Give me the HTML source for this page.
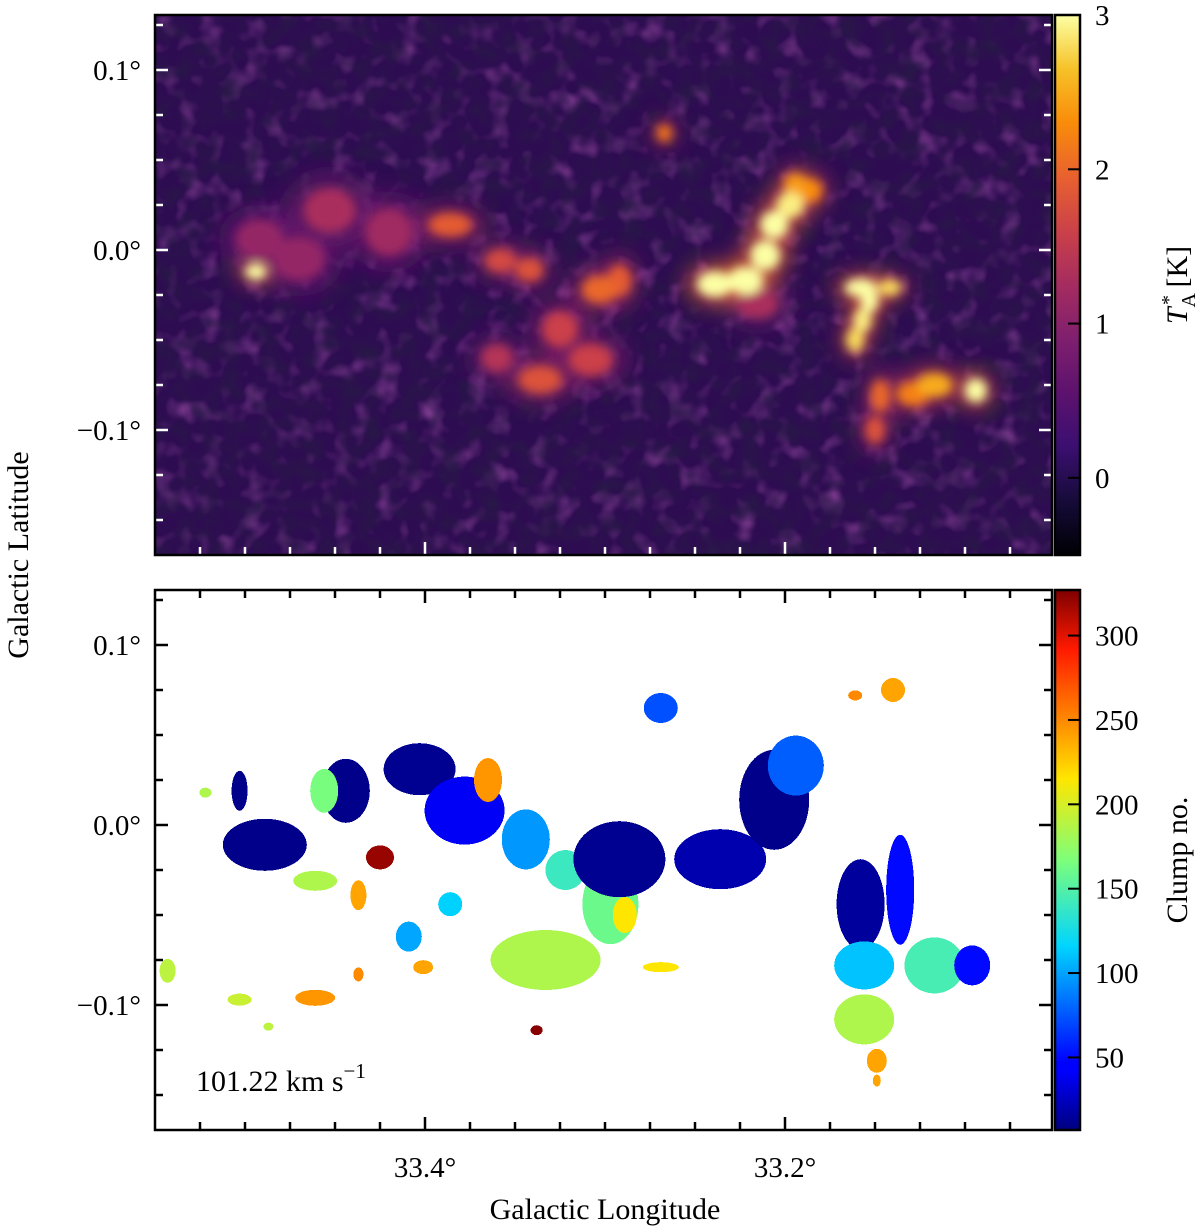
<!DOCTYPE html>
<html><head><meta charset="utf-8">
<style>
html,body{margin:0;padding:0;background:#fff;width:1200px;height:1232px;overflow:hidden}
svg{display:block;font-family:"Liberation Serif",serif}
</style></head>
<body>
<svg id="fig" width="1200" height="1232" viewBox="0 0 1200 1232" xmlns="http://www.w3.org/2000/svg">
<defs>
<filter id="blur6" x="-100%" y="-100%" width="300%" height="300%"><feGaussianBlur stdDeviation="5"/></filter>
<filter id="blurH" x="-100%" y="-100%" width="300%" height="300%"><feGaussianBlur stdDeviation="10"/></filter>
<filter id="noise" x="0" y="0" width="100%" height="100%">
<feTurbulence type="fractalNoise" baseFrequency="0.045" numOctaves="2" seed="4"/>
<feColorMatrix type="matrix" values="0 0 0 0 0.42  0 0 0 0 0.1  0 0 0 0 0.45  1.4 0 0 0 -0.7"/>
</filter>
<filter id="noise2" x="0" y="0" width="100%" height="100%">
<feTurbulence type="fractalNoise" baseFrequency="0.05" numOctaves="2" seed="11"/>
<feColorMatrix type="matrix" values="0 0 0 0 0.02  0 0 0 0 0.01  0 0 0 0 0.06  1.7 0 0 0 -0.66"/>
</filter>
<clipPath id="clipTop"><rect x="155" y="15" width="897" height="540"/></clipPath>
<clipPath id="clipBot"><rect x="155" y="590" width="897" height="540"/></clipPath>
<linearGradient id="gInferno" x1="0" y1="1" x2="0" y2="0">
<stop offset="0" stop-color="#000004"/><stop offset="0.1" stop-color="#160b39"/><stop offset="0.2" stop-color="#3b0f70"/><stop offset="0.3" stop-color="#5c126e"/><stop offset="0.4" stop-color="#7f1f6e"/><stop offset="0.5" stop-color="#a52c60"/><stop offset="0.6" stop-color="#cb4149"/><stop offset="0.7" stop-color="#e8612f"/><stop offset="0.8" stop-color="#f98c0a"/><stop offset="0.9" stop-color="#f6c228"/><stop offset="1" stop-color="#fcffa4"/>
</linearGradient>
<linearGradient id="gJet" x1="0" y1="1" x2="0" y2="0">
<stop offset="0" stop-color="#00007f"/><stop offset="0.11" stop-color="#0000ff"/><stop offset="0.125" stop-color="#0000ff"/><stop offset="0.34" stop-color="#00d4ff"/><stop offset="0.5" stop-color="#7dff7a"/><stop offset="0.65" stop-color="#ffe600"/><stop offset="0.89" stop-color="#ff1a00"/><stop offset="1" stop-color="#7f0000"/>
</linearGradient>
</defs>
<g id="topPanel"></g>
<g id="botPanel"></g>
<g id="axes"></g>
</svg>
<script>
// ---- data ----
const blobLon = [33.494,33.267,33.239,33.222,33.211,33.206,33.197,33.194,33.186,33.158,33.142,33.153,33.157,33.161,33.117,33.094,33.147,33.15,33.129,33.386,33.358,33.342,33.303,33.292,33.325,33.336,33.308,33.453,33.492,33.42,33.47,33.215,33.36];
const blobLat = [-0.012,0.065,-0.019,-0.017,-0.003,0.014,0.025,0.036,0.033,-0.021,-0.021,-0.028,-0.039,-0.05,-0.075,-0.078,-0.081,-0.1,-0.08,0.014,-0.006,-0.011,-0.022,-0.017,-0.044,-0.072,-0.061,0.022,0.006,0.01,-0.005,-0.03,-0.06];
const blobAmp = [3.0,2.1,3.1,3.2,3.1,3.0,2.9,2.4,2.3,3.1,2.8,3.0,2.9,2.8,2.5,3.1,2.0,1.8,2.2,1.9,1.7,1.8,2.0,1.9,1.6,1.8,1.6,1.3,1.1,1.2,1.1,1.3,1.4];
const blobRx = [11,8,18,18,15,14,14,12,12,16,12,9,9,9,18,11,10,10,16,22,16,14,18,12,18,22,22,26,24,24,26,20,16];
const blobRy = [8,9,13,14,15,14,13,12,12,9,8,12,12,12,12,12,16,14,12,12,12,12,14,16,18,14,16,22,20,24,22,14,14];

const clumpLon = [33.489,33.503,33.444,33.456,33.461,33.425,33.437,33.403,33.378,33.365,33.344,33.386,33.409,33.401,33.322,33.297,33.292,33.333,33.289,33.269,33.269,33.236,33.206,33.194,33.158,33.136,33.156,33.117,33.096,33.156,33.149,33.140,33.161,33.461,33.503,33.543,33.338,33.437,33.522,33.487,33.149];
const clumpLat = [-0.011,0.019,0.019,0.019,-0.031,-0.018,-0.039,0.031,0.008,0.025,-0.008,-0.044,-0.062,-0.079,-0.025,-0.044,-0.019,-0.075,-0.05,-0.079,0.065,-0.019,0.014,0.033,-0.044,-0.036,-0.078,-0.078,-0.078,-0.108,-0.131,0.075,0.072,-0.096,-0.097,-0.081,-0.114,-0.083,0.018,-0.112,-0.142];
const clumpId = [10,10,10,165,185,320,240,12,40,245,95,115,100,240,140,160,12,185,215,215,70,20,10,75,15,45,110,145,45,185,240,240,250,245,195,190,325,250,185,190,240];
const clumpRx = [42,8,24,14,22,14,8,36,40,14,24,12,13,10,20,28,46,55,12,18,17,46,35,28,24,14,30,30,18,30,10,12,7,20,12,8,6,5,6,5,4];
const clumpRy = [26,20,32,22,10,12,15,26,34,22,30,12,15,7,20,40,38,30,18,5,15,30,50,30,45,55,24,28,20,25,12,12,5,8,6,12,5,7,5,4,6];

const latTicks = [0.1,0.0,-0.1];
const latLabels = ["0.1°","0.0°","−0.1°"];
const lonTicks = [33.4,33.2];
const lonLabels = ["33.4°","33.2°"];
const cbTopTicks = [0,1,2,3];
const cbBotTicks = [50,100,150,200,250,300];

// ---- axes functions ----
const X0=155, X1=1052;
function xOf(lon){ return 425 + (33.4-lon)*1800; }
function yTop(lat){ return 250 - lat*1800; }
function yBot(lat){ return 825 - lat*1800; }
function cbTopY(v){ return 555 - (v+0.5)/3.5*540; }
function cbBotY(v){ return 1130 - (v-7)/(327-7)*540; }

const NS="http://www.w3.org/2000/svg";
function mk(tag, attrs, parent){ const e=document.createElementNS(NS,tag); for(const k in attrs) e.setAttribute(k,attrs[k]); parent.appendChild(e); return e; }

function lerpStops(stops,t){
  t=Math.max(0,Math.min(1,t));
  for(let i=0;i<stops.length-1;i++){
    if(t<=stops[i+1][0]){
      const a=stops[i],b=stops[i+1],f=(t-a[0])/(b[0]-a[0]);
      const c=[0,1,2].map(j=>Math.round(a[1][j]+(b[1][j]-a[1][j])*f));
      return `rgb(${c[0]},${c[1]},${c[2]})`;
    }
  }
  const l=stops[stops.length-1][1]; return `rgb(${l[0]},${l[1]},${l[2]})`;
}
const inferno=[[0,[0,0,4]],[0.1,[22,11,57]],[0.2,[59,15,112]],[0.3,[92,18,110]],[0.4,[127,31,110]],[0.5,[165,44,96]],[0.6,[203,65,73]],[0.7,[232,97,47]],[0.8,[249,140,10]],[0.9,[246,194,40]],[1,[252,255,164]]];
const jet=[[0,[0,0,127]],[0.11,[0,0,255]],[0.34,[0,212,255]],[0.5,[125,255,122]],[0.65,[255,230,0]],[0.89,[255,26,0]],[1,[127,0,0]]];
function infernoCol(v){ return lerpStops(inferno,(v+0.5)/3.5); }
function jetCol(v){ return lerpStops(jet,(v-7)/320); }

// ---- top panel ----
const topG=document.getElementById('topPanel');
const tg=mk('g',{'clip-path':'url(#clipTop)'},topG);
let r=mk('rect',{x:X0,y:15,width:897,height:540,fill:'rgb(46,12,82)'},tg);


mk('rect',{x:X0,y:15,width:897,height:540,filter:'url(#noise)'},tg);
mk('rect',{x:X0,y:15,width:897,height:540,filter:'url(#noise2)'},tg);
const order=blobAmp.map((a,i)=>i).sort((a,b)=>blobAmp[a]-blobAmp[b]);
const haloG=mk('g',{filter:'url(#blurH)'},tg);
order.forEach(i=>{
  const h=mk('ellipse',{cx:xOf(blobLon[i]),cy:yTop(blobLat[i]),rx:blobRx[i]*1.7,ry:blobRy[i]*1.7,fill:infernoCol(blobAmp[i]*0.62),opacity:0.6},haloG);
  
  
});
const blobG=mk('g',{filter:'url(#blur6)'},tg);
order.forEach(i=>{
  const e=mk('ellipse',{cx:xOf(blobLon[i]),cy:yTop(blobLat[i]),rx:blobRx[i],ry:blobRy[i],fill:infernoCol(blobAmp[i])},blobG);
  
  
});

// ---- bottom panel ----
const botG=document.getElementById('botPanel');
const bgp=mk('g',{'clip-path':'url(#clipBot)','shape-rendering':'crispEdges'},botG);
clumpId.forEach((id,i)=>{
  const e=mk('ellipse',{cx:xOf(clumpLon[i]),cy:yBot(clumpLat[i]),rx:clumpRx[i],ry:clumpRy[i],fill:jetCol(id)},bgp);
  
  
});
let vt=mk('text',{x:196,y:1091,'font-size':30,fill:'#000'},botG);


vt.appendChild(document.createTextNode('101.22 km s'));
const sup=mk('tspan',{dy:-13,'font-size':21},vt);
sup.textContent='−1';

// ---- axes ----
const ax=document.getElementById('axes');
function panel(yT, yFn, col, name){
  const g=mk('g',{},ax);
  
  
  for(let k=-7;k<=5;k++){
    const lat=k*0.025, y=yFn(lat);
    if(y<yT+3||y>yT+537) continue;
    const L=(k%4===0)?13:8;
    mk('line',{x1:X0,x2:X0+L,y1:y,y2:y,stroke:col,'stroke-width':2.5},g);
    mk('line',{x1:X1,x2:X1-L,y1:y,y2:y,stroke:col,'stroke-width':2.5},g);
  }
  for(let k=-12;k<=20;k++){
    const lon=33.4-k*0.025, x=xOf(lon);
    if(x<X0+3||x>X1-3) continue;
    const L=(k%8===0)?13:8;
    mk('line',{x1:x,x2:x,y1:yT+540,y2:yT+540-L,stroke:col,'stroke-width':2.5},g);
    if(col==='#000') mk('line',{x1:x,x2:x,y1:yT,y2:yT+L,stroke:col,'stroke-width':2.5},g);
  }
  mk('rect',{x:X0,y:yT,width:X1-X0,height:540,fill:'none',stroke:'#000','stroke-width':2.5},g);
  latTicks.forEach((v,i)=>{
    const t=mk('text',{x:141,y:yFn(v)+10,'font-size':29,'text-anchor':'end'},g);
    
    
    t.textContent=latLabels[i];
  });
}
panel(15,yTop,'#fff','top-axes');
panel(590,yBot,'#000','bottom-axes');
lonTicks.forEach((v,i)=>{
  const t=mk('text',{x:xOf(v),y:1177,'font-size':29,'text-anchor':'middle'},ax);
  
  
  t.textContent=lonLabels[i];
});
let xt=mk('text',{x:605,y:1219,'font-size':30,'text-anchor':'middle'},ax);


xt.textContent='Galactic Longitude';
let yt=mk('text',{x:0,y:0,'font-size':30,'text-anchor':'middle',transform:'translate(28,555) rotate(-90)'},ax);


yt.textContent='Galactic Latitude';

// colorbars
function cbar(yT, grad, ticks, yFn, name, parts){
  const g=mk('g',{},ax);
  
  
  mk('rect',{x:1055,y:yT,width:25,height:540,fill:`url(#${grad})`,stroke:'#000','stroke-width':2.5},g);
  ticks.forEach(v=>{
    const y=yFn(v);
    mk('line',{x1:1080,x2:1068,y1:y,y2:y,stroke:'#000','stroke-width':2},g);
    const t=mk('text',{x:1095,y:y+10,'font-size':29},g);
    
    
    t.textContent=v;
  });
  const tt=mk('text',{x:0,y:0,'font-size':30,'text-anchor':'middle',transform:`translate(1187,${yT+270}) rotate(-90)`},g);
  
  
  parts.forEach(p=>{ const s=mk('tspan',p[1],tt); s.textContent=p[0]; });
}
cbar(15,'gInferno',cbTopTicks,cbTopY,'intensity-colorbar',[["T",{'font-style':'italic'}],["A",{'font-size':20,dy:8}],["*",{'font-size':20,dy:-20,dx:-12}],[" [K]",{dy:12}]]);
cbar(590,'gJet',cbBotTicks,cbBotY,'clump-colorbar',[["Clump no.",{}]]);
</script>
</body></html>
